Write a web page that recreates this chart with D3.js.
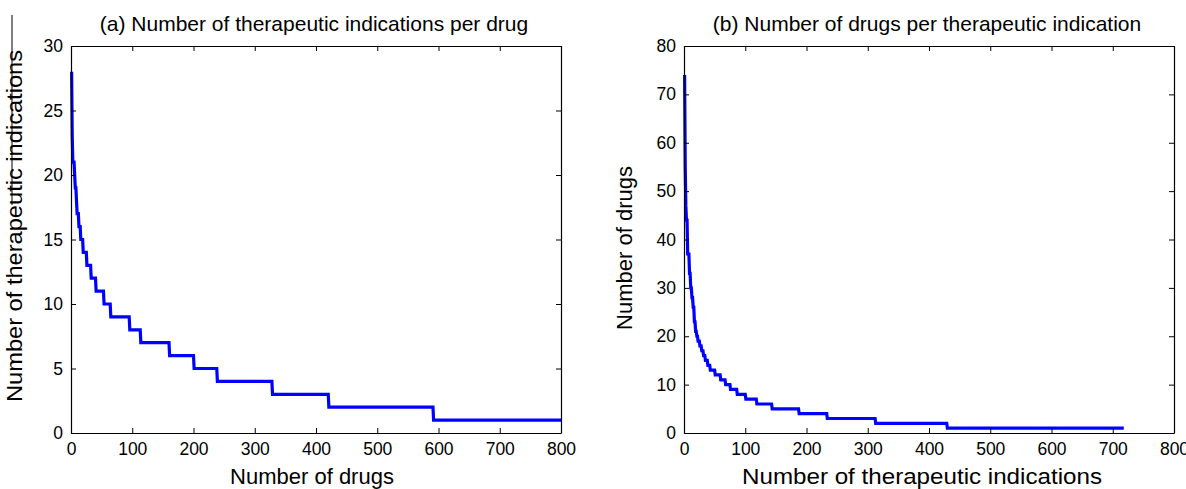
<!DOCTYPE html>
<html>
<head>
<meta charset="utf-8">
<script src="https://cdn.jsdelivr.net/npm/d3@7"></script>
<style>
  html, body { margin: 0; padding: 0; background: #fff; }
  svg { display: block; }
  text { font-family: "Liberation Sans", Arial, sans-serif; fill: #000; }
</style>
</head>
<body>
<svg id="chart" width="1186" height="489"></svg>
<script>
// ---- Data (rank-ordered step values) ----
// Panel (a): number of therapeutic indications per drug, sorted descending.
// Each value holds for drug ranks from the previous end+1 up to its end rank.
const drugIndicationValues = [28, 23, 21, 20, 19, 18, 17, 16, 15, 14, 13, 12, 11, 10, 9, 8, 7, 6, 5, 4, 3, 2, 1];
const drugRankEnds         = [1, 2, 5, 6, 8, 9, 12, 15, 19, 25, 32, 40, 53, 64, 95, 113, 160, 200, 238, 328, 420, 591, 800];

// Panel (b): number of drugs per therapeutic indication, sorted descending.
const indicationDrugValues = [74, 55, 47, 44, 37, 33, 30, 28, 26, 23, 21, 20, 19, 18, 17, 16, 15, 14, 13, 12, 11, 10, 9, 8, 7, 6, 5, 4, 3, 2, 1];
const indicationRankEnds   = [1, 2, 3, 5, 8, 10, 12, 14, 16, 18, 20, 22, 25, 28, 31, 34, 38, 42, 50, 59, 67, 75, 86, 100, 118, 143, 187, 233, 312, 429, 718];

// Tick values
const xTicksA = [0, 100, 200, 300, 400, 500, 600, 700, 800];
const yTicksA = [0, 5, 10, 15, 20, 25, 30];
const xTicksB = [0, 100, 200, 300, 400, 500, 600, 700, 800];
const yTicksB = [0, 10, 20, 30, 40, 50, 60, 70, 80];

const titles = ["(a) Number of therapeutic indications per drug", "(b) Number of drugs per therapeutic indication"];
const xLabels = ["Number of drugs", "Number of therapeutic indications"];
const yLabels = ["Number of therapeutic indications", "Number of drugs"];

// ---- Build step points from the arrays ----
function stepPoints(values, ends) {
  const pts = [];
  let start = 1;
  values.forEach((v, i) => {
    pts.push([start, v]);
    pts.push([ends[i], v]);
    start = ends[i] + 1;
  });
  return pts;
}

const svg = d3.select("#chart");

const panels = [
  { left: 71, right: 561, top: 46, bottom: 433, xMax: 800, yMax: 30,
    xTicks: xTicksA, yTicks: yTicksA, pts: stepPoints(drugIndicationValues, drugRankEnds),
    title: titles[0], xLabel: xLabels[0], yLabel: yLabels[0],
    xLabelX: 312, xLabelLen: null, yLabelX: 22, yLabelY: 226, yLabelLen: 352 },
  { left: 684, right: 1174, top: 46, bottom: 433, xMax: 800, yMax: 80,
    xTicks: xTicksB, yTicks: yTicksB, pts: stepPoints(indicationDrugValues, indicationRankEnds),
    title: titles[1], xLabel: xLabels[1], yLabel: yLabels[1],
    xLabelX: 922, xLabelLen: 360, yLabelX: 632, yLabelY: 248, yLabelLen: null }
];

panels.forEach(p => {
  const x = d3.scaleLinear().domain([0, p.xMax]).range([p.left, p.right]);
  const y = d3.scaleLinear().domain([0, p.yMax]).range([p.bottom, p.top]);
  const g = svg.append("g");
  const tickLen = 5;

  // data line
  const line = d3.line().x(d => x(d[0])).y(d => y(d[1]));
  g.append("path").datum(p.pts)
    .attr("d", line)
    .attr("fill", "none")
    .attr("stroke", "#0000ff")
    .attr("stroke-width", 3.2)
    .attr("stroke-linejoin", "miter");

  // axes (MATLAB style: ticks inside on all four sides)
  const bottomAxis = d3.axisBottom(x).tickValues(p.xTicks).tickSizeInner(-tickLen).tickSizeOuter(0).tickPadding(10);
  const topAxis = d3.axisTop(x).tickValues(p.xTicks).tickSizeInner(-tickLen).tickSizeOuter(0).tickFormat("");
  const leftAxis = d3.axisLeft(y).tickValues(p.yTicks).tickSizeInner(-tickLen).tickSizeOuter(0).tickPadding(8);
  const rightAxis = d3.axisRight(y).tickValues(p.yTicks).tickSizeInner(-tickLen).tickSizeOuter(0).tickFormat("");

  const styleAxis = sel => {
    sel.selectAll(".domain").attr("stroke", "#000").attr("stroke-width", 1.2);
    sel.selectAll(".tick line").attr("stroke", "#000").attr("stroke-width", 1);
    sel.selectAll("text").attr("font-size", 17.5).attr("font-family", "'Liberation Sans', Arial, sans-serif").attr("fill", "#000");
  };

  g.append("g").attr("transform", `translate(0,${p.bottom})`).call(bottomAxis).call(styleAxis);
  g.append("g").attr("transform", `translate(0,${p.top})`).call(topAxis).call(styleAxis);
  g.append("g").attr("transform", `translate(${p.left},0)`).call(leftAxis).call(styleAxis);
  g.append("g").attr("transform", `translate(${p.right},0)`).call(rightAxis).call(styleAxis);

  // title
  g.append("text")
    .attr("x", (p.left + p.right) / 2 - 2)
    .attr("y", 31)
    .attr("text-anchor", "middle")
    .attr("font-size", 21)
    .text(p.title);

  // x label
  const xl = g.append("text")
    .attr("x", p.xLabelX)
    .attr("y", 484)
    .attr("text-anchor", "middle")
    .attr("font-size", 22)
    .text(p.xLabel);
  if (p.xLabelLen) xl.attr("textLength", p.xLabelLen).attr("lengthAdjust", "spacingAndGlyphs");

  // y label
  const yl = g.append("text")
    .attr("transform", `translate(${p.yLabelX},${p.yLabelY}) rotate(-90)`)
    .attr("text-anchor", "middle")
    .attr("font-size", 22)
    .text(p.yLabel);
  if (p.yLabelLen) yl.attr("textLength", p.yLabelLen).attr("lengthAdjust", "spacingAndGlyphs");
});

// stray vertical rule near the left y-label (present in the reference image)
svg.append("line").attr("x1", 12).attr("x2", 12).attr("y1", 15).attr("y2", 205)
  .attr("stroke", "#000").attr("stroke-width", 1);
</script>
</body>
</html>
